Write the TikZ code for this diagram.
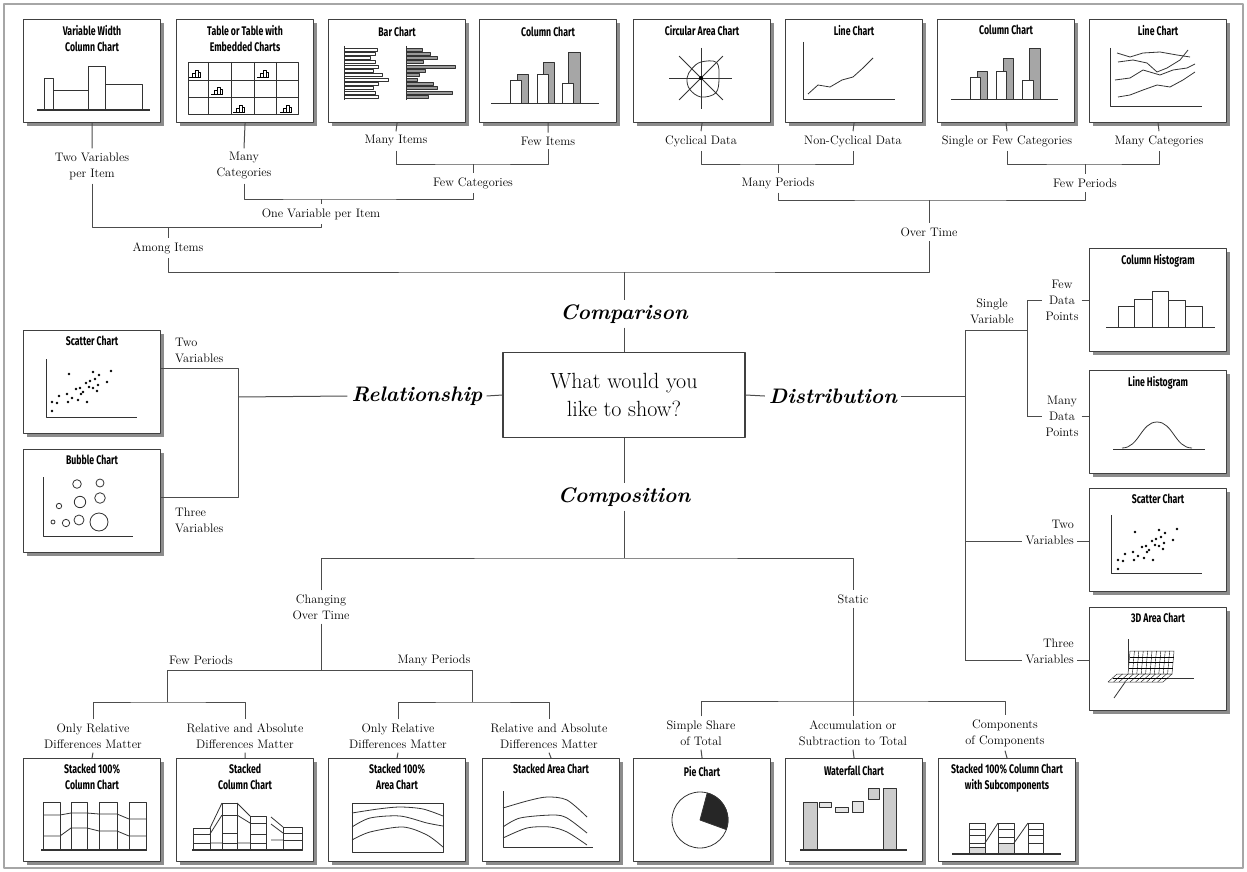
\documentclass[tikz,border=0pt]{standalone}
\usepackage{fontspec}
\newfontfamily\titlefont{Fira Sans}[FakeStretch=0.7]
\usetikzlibrary{calc}
\usetikzlibrary{positioning}
\usetikzlibrary{shadows}

\begin{document}
\begin{tikzpicture}[x=1pt, y=-1pt, line join=round]
    \tikzset{
        chartbox/.style={draw=black!75, line width=1.1pt, fill=white, minimum width=137pt, minimum height=103pt, inner sep=0pt, anchor=north west,
            drop shadow={shadow xshift=3.5pt, shadow yshift=-3.5pt, fill=black!45, opacity=1}},
        charttitle/.style={font={\titlefont\bfseries\fontsize{12.5}{16}\selectfont}, align=center, inner sep=0pt},
        lbl/.style={font={\fontsize{12.3}{16}\selectfont}, align=center, inner xsep=3pt, inner ysep=4pt},
        topic/.style={font={\fontsize{21}{24}\selectfont\bfseries\itshape}, inner sep=4pt},
        conn/.style={draw=black!70, line width=1pt},
        ink/.style={draw=black!80, line width=0.8pt}
    }

    % dots for the two scatter charts
    \newcommand{\scatterdots}{\foreach \px/\py in {29/81,29/72,34/73,36/66,44/64,45/72,49/68,55/70,53/59,57/58,64/72,60/62,63/53,66/57,67/51,70/58,74/61,75/55,70/42,76/45,84/52,88/41,46/44,58/64,72/49} \fill (\px,\py) circle [radius=1.3];}

    % Frame
    \useasboundingbox (0,0) rectangle (1247,872);
    \draw [black!35, line width=1.5pt] (4,4) rectangle (1243,868);

    % ---- Top row : comparison charts ----
    \node [chartbox] (vwc) at (23,19) {};
    \node [chartbox] (tbl) at (176,19) {};
    \node [chartbox] (bar) at (328,19) {};
    \node [chartbox] (colA) at (479,19) {};
    \node [chartbox] (circ) at (633,19) {};
    \node [chartbox] (lineA) at (785,19) {};
    \node [chartbox] (colB) at (937,19) {};
    \node [chartbox] (lineB) at (1089,19) {};

    \node [charttitle, below=6pt of vwc.north] (vwct) {Variable Width\\Column Chart};
    \node [charttitle, below=6pt of tbl.north] (tblt) {Table or Table with\\Embedded Charts};
    \node [charttitle, below=8pt of bar.north] (bart) {Bar Chart};
    \node [charttitle, below=8pt of colA.north] (colAt) {Column Chart};
    \node [charttitle, below=6pt of circ.north] (circt) {Circular Area Chart};
    \node [charttitle, below=6pt of lineA.north] (lineAt) {Line Chart};
    \node [charttitle, below=6pt of colB.north] (colBt) {Column Chart};
    \node [charttitle, below=6pt of lineB.north] (lineBt) {Line Chart};

    % variable width columns
    \begin{scope}[shift={(vwc.north west)}]
        \draw [ink] (21,91) rectangle (30,59);
        \draw [ink] (30,91) rectangle (65,71);
        \draw [ink] (65,91) rectangle (82,47);
        \draw [ink] (82,91) rectangle (119,65);
        \draw [ink, line width=1.2pt] (14,91) -- (127,91);
    \end{scope}

    % table with small charts
    \begin{scope}[shift={(tbl.north west)}]
        \draw [ink] (12,43) rectangle (122,95);
        \foreach \cx in {32,55,78,100} \draw [ink] (\cx,43) -- (\cx,95);
        \foreach \cy in {61,78} \draw [ink] (12,\cy) -- (122,\cy);
        \foreach \ix/\iy in {19/54, 87/54, 41/71, 63/89, 110/89} {
            \begin{scope}[shift={(\ix,\iy)}]
                \draw [line width=0.5pt] (-6,4) -- (6,4);
                \draw [line width=0.5pt] (-3,4) rectangle (0,0);
                \draw [line width=0.5pt] (0,4) rectangle (3,-3);
                \draw [line width=0.5pt] (3,4) rectangle (5,-1);
            \end{scope}
        }
    \end{scope}

    % bars
    \begin{scope}[shift={(bar.north west)}]
        \foreach \bl [count=\bi] in {49,47,42,47,50,45,54,60,50,45,47,50}
            \draw [ink, line width=0.5pt, fill=white] (16,24.5+4.3*\bi) rectangle (\bl,27.5+4.3*\bi);
        \foreach \bl [count=\bi] in {94,102,109,95,127,97,91,89,105,109,124,100}
            \draw [ink, line width=0.5pt, fill=black!40] (78,24.5+4.3*\bi) rectangle (\bl,27.5+4.3*\bi);
        \draw [ink] (16,27) -- (16,81);
        \draw [ink] (78,27) -- (78,81);
    \end{scope}

    % columns
    \begin{scope}[shift={(colA.north west)}]
        \draw [ink, fill=black!35] (38,84) rectangle (49,55);
        \draw [ink, fill=black!35] (64,84) rectangle (75,43);
        \draw [ink, fill=black!35] (89,84) rectangle (101,33);
        \draw [ink, fill=white] (31,84) rectangle (42,61);
        \draw [ink, fill=white] (58,84) rectangle (69,55);
        \draw [ink, fill=white] (83,84) rectangle (94,64);
        \draw [ink] (12,84) -- (120,84);
    \end{scope}

    % circular area
    \begin{scope}[shift={(circ.north west)}]
        \draw [ink] (36,59) -- (99,59);
        \draw [ink] (68,29) -- (68,90);
        \begin{scope}[shift={(68,59)}]
            \draw [ink] (45:31) -- (225:31);
            \draw [ink] (135:31) -- (315:31);
            \draw [ink] plot [smooth cycle, tension=0.6] coordinates {(0:18) (45:21) (90:19) (135:16) (180:14) (225:13) (270:16) (315:22)};
            \fill (0,0) circle [radius=2];
        \end{scope}
    \end{scope}

    % one line
    \begin{scope}[shift={(lineA.north west)}]
        \draw [ink] (18,23) -- (18,80) -- (110,80);
        \draw [ink] (23,75) -- (33,66) -- (45,68) -- (57,61) -- (68,58) -- (78,49) -- (88,39);
    \end{scope}

    % columns, few periods
    \begin{scope}[shift={(colB.north west)}]
        \draw [ink, fill=black!35] (40,80) rectangle (50,52);
        \draw [ink, fill=black!35] (66,80) rectangle (76,39);
        \draw [ink, fill=black!35] (92,80) rectangle (103,29);
        \draw [ink, fill=white] (33,80) rectangle (43,58);
        \draw [ink, fill=white] (59,80) rectangle (69,52);
        \draw [ink, fill=white] (85,80) rectangle (96,61);
        \draw [ink] (14,80) -- (121,80);
    \end{scope}

    % many lines
    \begin{scope}[shift={(lineB.north west)}]
        \draw [ink] (21,29) -- (21,87) -- (113,87);
        \draw [ink] (28,34) -- (41,38) -- (54,34) -- (71,33) -- (88,36) -- (101,38);
        \draw [ink] (29,43) -- (44,41) -- (58,44) -- (68,53) -- (78,49) -- (91,41) -- (99,31);
        \draw [ink] (26,61) -- (41,59) -- (54,51) -- (71,56) -- (84,51) -- (98,49) -- (106,45);
        \draw [ink] (29,78) -- (41,76) -- (54,71) -- (68,66) -- (81,68) -- (94,61) -- (106,53);
    \end{scope}

    % Labels of the comparison branch
    \node [lbl] (l2var) at (92,166) {Two Variables\\per Item};
    \node [lbl] (lmanycat) at (244,166) {Many\\Categories};
    \node [lbl] (lmanyitem) at (396,141) {Many Items};
    \node [lbl] (lfewitem) at (548,141) {Few Items};
    \node [lbl] (lfewcat) at (473,183) {Few Categories};
    \node [lbl] (lonevar) at (321,214) {One Variable per Item};
    \node [lbl] (lamong) at (168,248) {Among Items};
    \node [lbl] (lcyc) at (701,141) {Cyclical Data};
    \node [lbl] (lnoncyc) at (853,141) {Non-Cyclical Data};
    \node [lbl] (lmanyper) at (778,183) {Many Periods};
    \node [lbl] (lsinglecat) at (1007,141) {Single or Few Categories};
    \node [lbl] (lmanycats) at (1159,141) {Many Categories};
    \node [lbl] (lfewper) at (1085,183) {Few Periods};
    \node [lbl] (lovertime) at (929,232) {Over Time};

    % Junctions
    \coordinate (jcat) at (321,199);
    \coordinate (jitem) at (473,164);
    \coordinate (jvar) at (321,227);
    \coordinate (jamong) at (168,227);
    \coordinate (jcyc) at (778,164);
    \coordinate (jcats) at (1085,164);
    \coordinate (jtime) at (929,200);
    \coordinate (jmain) at (624,272);

    \draw [conn] (vwc.south) -- (l2var.north);
    \draw [conn] (tbl.south) -- (lmanycat.north);
    \draw [conn] (bar.south) -- (lmanyitem.north);
    \draw [conn] (colA.south) -- (lfewitem.north);
    \draw [conn] (lmanyitem.south) |- (jitem) -| (lfewitem.south);
    \draw [conn] (jitem) -- (lfewcat.north);
    \draw [conn] (lmanycat.south) |- (jcat) -| (lfewcat.south);
    \draw [conn] (jcat) -- (lonevar.north);
    \draw [conn] (l2var.south) |- (jvar) -- (lonevar.south);
    \draw [conn] (jamong) -- (lamong.north);
    \draw [conn] (circ.south) -- (lcyc.north);
    \draw [conn] (lineA.south) -- (lnoncyc.north);
    \draw [conn] (lcyc.south) |- (jcyc) -| (lnoncyc.south);
    \draw [conn] (jcyc) -- (lmanyper.north);
    \draw [conn] (colB.south) -- (lsinglecat.north);
    \draw [conn] (lineB.south) -- (lmanycats.north);
    \draw [conn] (lsinglecat.south) |- (jcats) -| (lmanycats.south);
    \draw [conn] (jcats) -- (lfewper.north);
    \draw [conn] (lmanyper.south) |- (jtime) -| (lfewper.south);
    \draw [conn] (jtime) -- (lovertime.north);
    \draw [conn] (lamong.south) |- (jmain) -| (lovertime.south);

    % ---- Centre ----
    \node [draw=black!75, line width=1.1pt, fill=white, minimum width=242pt, minimum height=85pt, align=center, font={\fontsize{22}{28}\selectfont}] (ask) at (624,395) {What would you\\like to show?};
    \node [topic] (lcompar) at (624,314) {Comparison};
    \node [topic] (lrel) at (417,396) {Relationship};
    \node [topic] (ldist) at (833,396) {Distribution};
    \node [topic] (lcompo) at (624,497) {Composition};

    \draw [conn] (jmain) -- (lcompar.north);
    \draw [conn] (lcompar.south) -- (ask.north);
    \draw [conn] (ask.west) -- (lrel.east);
    \draw [conn] (ask.east) -- (ldist.west);
    \draw [conn] (ask.south) -- (lcompo.north);

    % ---- Relationship ----
    \node [chartbox] (scatL) at (23,330) {};
    \node [chartbox] (bubble) at (23,449) {};
    \node [charttitle, below=6pt of scatL.north] (scatLt) {Scatter Chart};
    \node [charttitle, below=6pt of bubble.north] (bubblet) {Bubble Chart};

    \begin{scope}[shift={(scatL.north west)}]
        \draw [ink] (23,29) -- (23,87) -- (114,87);
        \scatterdots
    \end{scope}

    \begin{scope}[shift={(bubble.north west)}]
        \draw [ink] (20,28) -- (20,87) -- (110,87);
        \foreach \bx/\by/\br in {54/35/4.3, 77/34/4, 57/53/5.7, 77/49/5.3, 36/57/2.7, 30/73/2, 43/74/3.7, 56/71/5, 76/73/9}
            \draw [ink] (\bx,\by) circle [radius=\br];
    \end{scope}

    \coordinate (jrel) at (238,397);
    \coordinate (jrelA) at (238,368);
    \coordinate (jrelB) at (238,497);
    \draw [conn] (lrel.west) -- (jrel);
    \draw [conn] (scatL.east |- jrelA) -- (jrelA) -- (jrelB) -- (bubble.east |- jrelB);
    \node [lbl, align=left, anchor=west] (ltwoL) at (172,350) {Two\\Variables};
    \node [lbl, align=left, anchor=west] (lthreeL) at (172,520) {Three\\Variables};

    % ---- Distribution ----
    \node [chartbox] (colhist) at (1089,248) {};
    \node [chartbox] (linehist) at (1089,370) {};
    \node [chartbox] (scatR) at (1089,488) {};
    \node [chartbox] (area3d) at (1089,607) {};
    \node [charttitle, below=6pt of colhist.north] (colhistt) {Column Histogram};
    \node [charttitle, below=6pt of linehist.north] (linehistt) {Line Histogram};
    \node [charttitle, below=6pt of scatR.north] (scatRt) {Scatter Chart};
    \node [charttitle, below=6pt of area3d.north] (area3dt) {3D Area Chart};

    \begin{scope}[shift={(colhist.north west)}]
        \draw [ink] (29,79) rectangle (45,58);
        \draw [ink] (45,79) rectangle (63,51);
        \draw [ink] (63,79) rectangle (79,43);
        \draw [ink] (79,79) rectangle (96,52);
        \draw [ink] (96,79) rectangle (113,58);
        \draw [ink] (17,79) -- (126,79);
    \end{scope}

    \begin{scope}[shift={(linehist.north west)}]
        \draw [ink] (24,79) -- (116,79);
        \draw [ink] (33,78) .. controls (50,78) and (52,52) .. (68,52) .. controls (84,52) and (86,78) .. (103,78);
    \end{scope}

    \begin{scope}[shift={(scatR.north west)}]
        \draw [ink] (22,27) -- (22,85) -- (113,85);
        \scatterdots
    \end{scope}

    \begin{scope}[shift={(area3d.north west)}]
        \draw [ink] (39,32) -- (39,71) -- (105,71);
        \draw [ink] (39,71) -- (25,91);
        \draw [ink, line width=0.5pt, fill=white] (41,44) -- (85,44) -- (83,67) -- (39,67) -- cycle;
        \foreach \t in {0.1,0.2,...,0.95}
            \draw [line width=0.4pt] ($(39,67)!\t!(83,67)$) -- ($(41,44)!\t!(85,44)$);
        \foreach \t in {0.25,0.5,0.75}
            \draw [line width=0.4pt] ($(39,67)!\t!(41,44)$) -- ($(83,67)!\t!(85,44)$);
        \draw [ink, line width=0.5pt, fill=white] (19,75) -- (74,75) -- (83,67) -- (28,67) -- cycle;
        \foreach \t in {0.1,0.2,...,0.95}
            \draw [line width=0.4pt] ($(19,75)!\t!(74,75)$) -- ($(28,67)!\t!(83,67)$);
        \draw [line width=0.4pt] ($(19,75)!0.5!(28,67)$) -- ($(74,75)!0.5!(83,67)$);
    \end{scope}

    \coordinate (jsingle) at (965,330);
    \coordinate (jtwo) at (965,541);
    \coordinate (jthree) at (965,660);
    \coordinate (jsv) at (1027,330);
    \coordinate (jfew) at (1027,300);
    \coordinate (jmany) at (1027,416);

    \node [lbl] (lsinglev) at (992,311) {Single\\Variable};
    \node [lbl] (lfewdp) at (1062,300) {Few\\Data\\Points};
    \node [lbl] (lmanydp) at (1062,416) {Many\\Data\\Points};
    \node [lbl, align=right, anchor=east] (ltwoR) at (1077,532) {Two\\Variables};
    \node [lbl, align=right, anchor=east] (lthreeR) at (1077,651) {Three\\Variables};

    \draw [conn] (ldist.east) -- (ldist.east -| jsingle);
    \draw [conn] (jsv) -- (jsingle) -- (jthree);
    \draw [conn] (jfew) -- (jmany);
    \draw [conn] (jfew) -- (lfewdp.west |- jfew);
    \draw [conn] (lfewdp.east |- jfew) -- (colhist.west |- jfew);
    \draw [conn] (jmany) -- (lmanydp.west |- jmany);
    \draw [conn] (lmanydp.east |- jmany) -- (linehist.west |- jmany);
    \draw [conn] (jtwo) -- (ltwoR.west |- jtwo);
    \draw [conn] (ltwoR.east |- jtwo) -- (scatR.west |- jtwo);
    \draw [conn] (jthree) -- (lthreeR.west |- jthree);
    \draw [conn] (lthreeR.east |- jthree) -- (area3d.west |- jthree);

    % ---- Composition ----
    \coordinate (jcomp) at (624,558);
    \coordinate (jchg) at (321,670);
    \coordinate (jfewB) at (167,670);
    \coordinate (jmanyB) at (472,670);
    \coordinate (jfewB2) at (167,702);
    \coordinate (jmanyB2) at (472,702);
    \coordinate (jstat) at (853,701);

    \node [lbl] (lchange) at (321,607) {Changing\\Over Time};
    \node [lbl] (lstatic) at (853,599) {Static};
    \node [lbl] (lfewB) at (201,660) {Few Periods};
    \node [lbl] (lmanyB) at (434,660) {Many Periods};
    \node [lbl] (lrelA) at (93,736) {Only Relative\\Differences Matter};
    \node [lbl] (labsA) at (245,736) {Relative and Absolute\\Differences Matter};
    \node [lbl] (lrelB) at (398,736) {Only Relative\\Differences Matter};
    \node [lbl] (labsB) at (549,736) {Relative and Absolute\\Differences Matter};
    \node [lbl] (lshare) at (701,733) {Simple Share\\of Total};
    \node [lbl] (laccum) at (853,733) {Accumulation or\\Subtraction to Total};
    \node [lbl] (lcomps) at (1005,733) {Components\\of Components};

    \draw [conn] (lcompo.south) -- (jcomp);
    \draw [conn] (lchange.north) |- (jcomp) -| (lstatic.north);
    \draw [conn] (lchange.south) -- (jchg);
    \draw [conn] (jfewB) -- (jmanyB);
    \draw [conn] (jfewB) -- (jfewB2);
    \draw [conn] (jmanyB) -- (jmanyB2);
    \draw [conn] (lrelA.north) |- (jfewB2) -| (labsA.north);
    \draw [conn] (lrelB.north) |- (jmanyB2) -| (labsB.north);
    \draw [conn] (lstatic.south) -- (laccum.north);
    \draw [conn] (lshare.north) |- (jstat) -| (lcomps.north);

    \node [chartbox] (st100c) at (23,758) {};
    \node [chartbox] (stcol) at (176,758) {};
    \node [chartbox] (st100a) at (328,758) {};
    \node [chartbox] (starea) at (482,758) {};
    \node [chartbox] (pie) at (633,758) {};
    \node [chartbox] (water) at (785,758) {};
    \node [chartbox] (stsub) at (938,758) {};
    \node [charttitle, below=6pt of st100c.north] (st100ct) {Stacked 100\%\\Column Chart};
    \node [charttitle, below=6pt of stcol.north] (stcolt) {Stacked\\Column Chart};
    \node [charttitle, below=6pt of st100a.north] (st100at) {Stacked 100\%\\Area Chart};
    \node [charttitle, below=6pt of starea.north] (stareat) {Stacked Area Chart};
    \node [charttitle, below=8pt of pie.north] (piet) {Pie Chart};
    \node [charttitle, below=8pt of water.north] (watert) {Waterfall Chart};
    \node [charttitle, below=6pt of stsub.north] (stsubt) {Stacked 100\% Column Chart\\with Subcomponents};

    \draw [conn] (lrelA.south) -- (st100c.north);
    \draw [conn] (labsA.south) -- (stcol.north);
    \draw [conn] (lrelB.south) -- (st100a.north);
    \draw [conn] (labsB.south) -- (starea.north);
    \draw [conn] (lshare.south) -- (pie.north);
    \draw [conn] (laccum.south) -- (water.north);
    \draw [conn] (lcomps.south) -- (stsub.north);

    % stacked 100% columns
    \begin{scope}[shift={(st100c.north west)}]
        \foreach \ca/\cb in {20/37, 48/64, 76/94, 106/123}
            \draw [ink] (\ca,92) rectangle (\cb,44);
        \draw [ink] (20,57) -- (37,57) -- (48,55) -- (64,55) -- (76,56) -- (94,56) -- (106,61) -- (123,61);
        \draw [ink] (20,78) -- (37,78) -- (48,70) -- (64,70) -- (76,73) -- (94,73) -- (106,78) -- (123,78);
        \draw [ink, line width=1.2pt] (18,92) -- (124,92);
    \end{scope}

    % stacked columns
    \begin{scope}[shift={(stcol.north west)}]
        \draw [ink] (17,92) rectangle (34,70);
        \draw [ink] (46,92) rectangle (61,45);
        \draw [ink] (74,92) rectangle (90,58);
        \draw [ink] (107,92) rectangle (126,69);
        \draw [ink] (17,76) -- (34,76) (17,85) -- (34,85);
        \draw [ink] (46,57) -- (61,57) (46,75) -- (61,75) (46,85) -- (61,85);
        \draw [ink] (74,65) -- (90,65) (74,76) -- (90,76) (74,85) -- (90,85);
        \draw [ink] (107,75) -- (126,75) (107,82) -- (126,82);
        \draw [ink] (34,70) -- (46,45) (34,76) -- (46,57) (34,85) -- (46,85);
        \draw [ink] (61,45) -- (74,58) (61,57) -- (74,65) (61,85) -- (74,85);
        \draw [ink] (95,59) -- (107,69) (95,66) -- (107,75) (95,82) -- (107,82);
        \draw [ink, line width=1.2pt] (16,92) -- (126,92);
    \end{scope}

    % stacked 100% area
    \begin{scope}[shift={(st100a.north west)}]
        \draw [ink] (24,45) rectangle (115,94);
        \draw [ink] plot [smooth] coordinates {(24,55) (50,51) (72,49) (95,51) (115,58)};
        \draw [ink] plot [smooth] coordinates {(24,69) (42,60) (72,58) (99,65) (115,68)};
        \draw [ink] plot [smooth] coordinates {(24,82) (42,74) (75,69) (99,77) (115,89)};
    \end{scope}

    % stacked area
    \begin{scope}[shift={(starea.north west)}]
        \draw [ink] (21,33) -- (21,89) -- (111,89);
        \draw [ink] plot [smooth] coordinates {(21,50) (45,43) (65,39) (85,42) (105,59)};
        \draw [ink] plot [smooth] coordinates {(21,69) (38,60) (71,57) (85,60) (105,75)};
        \draw [ink] plot [smooth] coordinates {(21,80) (45,70) (68,69) (85,74) (105,87)};
    \end{scope}

    % pie
    \begin{scope}[shift={(pie.north west)}]
        \draw [ink] (67,62) circle [radius=28];
        \draw [ink, fill=black!85] (67,62) -- ++(-75:28) arc [start angle=-75, end angle=20, radius=28] -- cycle;
    \end{scope}

    % waterfall
    \begin{scope}[shift={(water.north west)}]
        \draw [ink, fill=black!20] (18,92) rectangle (32,44);
        \draw [ink, fill=black!10] (34,44) rectangle (46,49);
        \draw [ink, fill=black!10] (50,49) rectangle (63,54);
        \draw [ink, fill=black!10] (67,43) rectangle (78,54);
        \draw [ink, fill=black!20] (83,30) rectangle (94,41);
        \draw [ink, fill=black!20] (98,92) rectangle (111,30);
        \draw [ink, line width=1.2pt] (15,92) -- (122,92);
    \end{scope}

    % stacked 100% with subcomponents
    \begin{scope}[shift={(stsub.north west)}]
        \draw [ink, fill=black!15] (31,89) rectangle (47,96);
        \draw [ink, fill=black!15] (60,85) rectangle (76,96);
        \foreach \ca/\cb in {31/47, 60/76, 90/105}
            \draw [ink] (\ca,96) rectangle (\cb,65);
        \draw [ink] (31,71) -- (47,71) (31,77) -- (47,77) (31,85) -- (47,85);
        \draw [ink] (60,71) -- (76,71) (60,79) -- (76,79) (60,85) -- (76,85);
        \draw [ink] (90,71) -- (105,71) (90,77) -- (105,77) (90,85) -- (105,85);
        \draw [ink] (47,85) -- (60,65);
        \draw [ink] (76,85) -- (90,65);
        \draw [ink, line width=1.2pt] (14,96) -- (123,96);
    \end{scope}

\end{tikzpicture}
\end{document}
